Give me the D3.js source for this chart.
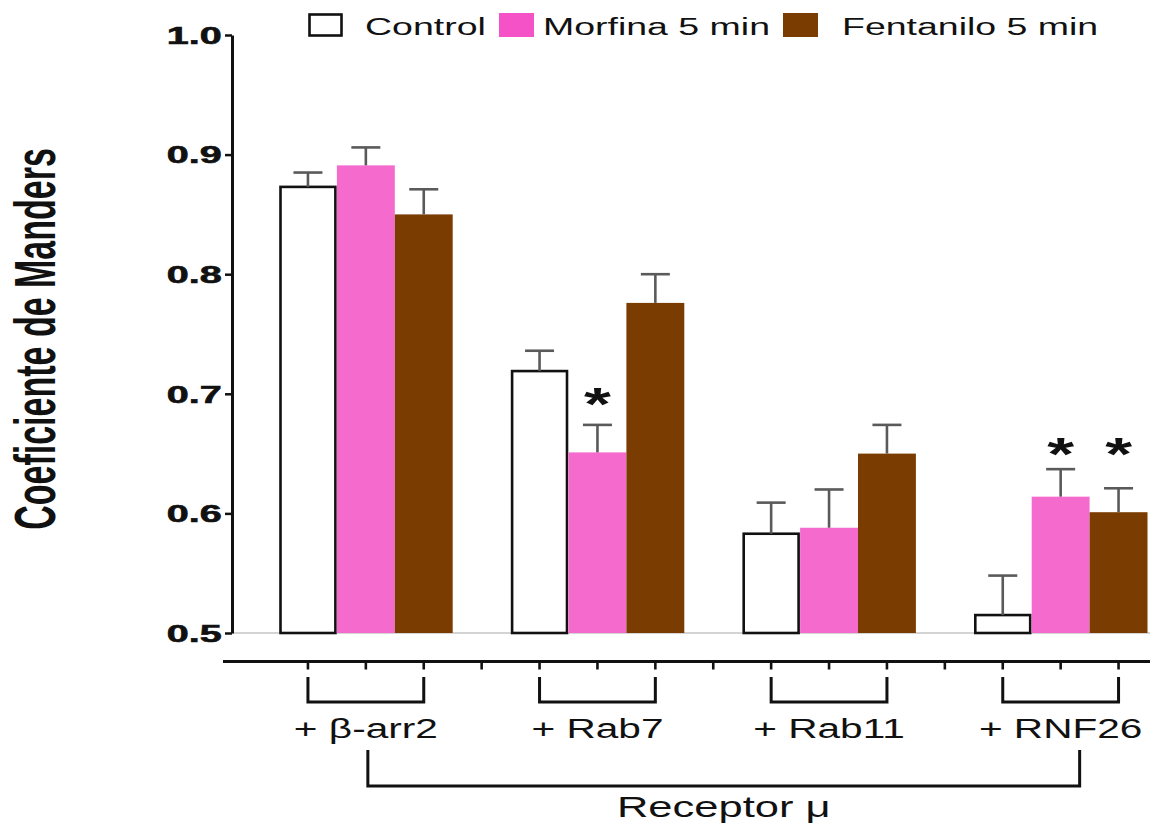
<!DOCTYPE html>
<html><head><meta charset="utf-8">
<script src="https://cdn.jsdelivr.net/npm/d3@7"></script>
<style>
body{margin:0;background:#fff}
svg{display:block}
text{font-family:"Liberation Sans",Arial,Helvetica,sans-serif;fill:#111}
</style></head>
<body><svg id="c" width="1150" height="828"></svg>
<script>
// ---- data ----
const groups = ["+ β-arr2", "+ Rab7", "+ Rab11", "+ RNF26"];
const series = ["Control", "Morfina 5 min", "Fentanilo 5 min"];
const controlMean   = [0.873, 0.719, 0.583, 0.515];
const controlErr    = [0.012, 0.017, 0.026, 0.033];
const morfinaMean   = [0.891, 0.651, 0.588, 0.614];
const morfinaErr    = [0.015, 0.023, 0.032, 0.023];
const fentaniloMean = [0.850, 0.776, 0.650, 0.601];
const fentaniloErr  = [0.021, 0.024, 0.024, 0.020];
const yTicks = [0.5, 0.6, 0.7, 0.8, 0.9, 1.0];
const starGroups = ["+ Rab7", "+ RNF26", "+ RNF26"];
const starSeries = ["Morfina 5 min", "Morfina 5 min", "Fentanilo 5 min"];
const starLevel  = [0.699, 0.657, 0.657];
const yTitle = "Coeficiente de Manders";
const xTitle = "Receptor μ";

// ---- setup ----
const svg = d3.select("#c");
const means = [controlMean, morfinaMean, fentaniloMean];
const errs = [controlErr, morfinaErr, fentaniloErr];
const colors = ["#ffffff", "#f56acd", "#7b3c02"];
const color = d3.scaleOrdinal().domain(series).range(colors);

const y = d3.scaleLinear().domain([0.5, 1.0]).range([633, 35]);
const x0 = d3.scaleBand().domain(groups).range([279, 279 + 4 * 231.6]);
const slots = [...series, "gap"];
const x1 = d3.scaleBand().domain(slots).range([0, x0.bandwidth()]);
const cx = (g, s) => x0(g) + x1(s) + x1.bandwidth() / 2;

const rows = [];
series.forEach((s, i) => groups.forEach((g, j) => rows.push({g, s, v: means[i][j], e: errs[i][j]})));

function stretchText(sel, x, yy, sx, anchor, size, weight, txt) {
  return sel.append("text")
    .attr("transform", `translate(${x},${yy}) scale(${sx},1)`)
    .attr("text-anchor", anchor)
    .attr("font-size", size)
    .attr("font-weight", weight)
    .text(txt);
}

// faint baseline
svg.append("line").attr("x1", 232).attr("x2", 1150).attr("y1", y(0.5)).attr("y2", y(0.5))
  .attr("stroke", "#d4d4d4").attr("stroke-width", 2);

// bars
svg.append("g").selectAll("rect").data(rows).join("rect")
  .attr("x", d => x0(d.g) + x1(d.s) + (d.s === "Control" ? 1.5 : 0))
  .attr("width", d => x1.bandwidth() - (d.s === "Control" ? 3 : 0))
  .attr("y", d => y(d.v))
  .attr("height", d => y(0.5) - y(d.v))
  .attr("fill", d => color(d.s))
  .attr("stroke", d => d.s === "Control" ? "#111" : "none")
  .attr("stroke-width", 2.6);

// error bars (upper only)
const eb = svg.append("g").attr("stroke", "#5a5a5a").attr("stroke-width", 2.6);
eb.selectAll("line.stem").data(rows).join("line").attr("class", "stem")
  .attr("x1", d => cx(d.g, d.s)).attr("x2", d => cx(d.g, d.s))
  .attr("y1", d => y(d.v)).attr("y2", d => y(d.v + d.e));
eb.selectAll("line.cap").data(rows).join("line").attr("class", "cap")
  .attr("x1", d => cx(d.g, d.s) - 14.5).attr("x2", d => cx(d.g, d.s) + 14.5)
  .attr("y1", d => y(d.v + d.e)).attr("y2", d => y(d.v + d.e));

// stars
starGroups.forEach((g, i) => {
  stretchText(svg, cx(g, starSeries[i]), y(starLevel[i]) + 25, 1.5, "middle", 46, "bold", "*");
});

// y axis
const ya = svg.append("g").attr("transform", "translate(232,0)")
  .call(d3.axisLeft(y).tickValues(yTicks).tickFormat(d3.format(".1f")).tickSize(7).tickSizeOuter(0));
ya.select(".domain").attr("stroke", "#111").attr("stroke-width", 3);
ya.selectAll(".tick line").attr("stroke", "#111").attr("stroke-width", 2.5);
ya.selectAll(".tick text")
  .attr("font-family", "'Liberation Sans',Arial,sans-serif")
  .attr("font-size", 23).attr("font-weight", "bold").attr("fill", "#111")
  .attr("x", -6).attr("dy", "0.36em")
  .attr("stroke", "#111").attr("stroke-width", 0.6)
  .attr("transform", "scale(1.72,1)");

// y title
svg.append("text")
  .attr("transform", `translate(55,339) scale(1.69,1) rotate(-90)`)
  .attr("text-anchor", "middle").attr("font-size", 34).attr("font-weight", "bold")
  .text(yTitle);

// bottom axis
const allSlots = [];
groups.forEach(g => slots.forEach(s => allSlots.push(g + "|" + s)));
const xs = d3.scaleBand().domain(allSlots).range(x0.range());
svg.append("line").attr("x1", 223).attr("x2", 1150).attr("y1", 661.5).attr("y2", 661.5)
  .attr("stroke", "#111").attr("stroke-width", 3);
const xa = svg.append("g").attr("transform", "translate(0,661.5)")
  .call(d3.axisBottom(xs).tickFormat("").tickSize(8).tickSizeOuter(0));
xa.select(".domain").remove();
xa.selectAll(".tick line").attr("stroke", "#111").attr("stroke-width", 2.6);

// group brackets and labels
groups.forEach(g => {
  const a = cx(g, "Control"), b = cx(g, "Fentanilo 5 min");
  svg.append("path").attr("d", `M${a},677V702H${b}V677`)
    .attr("fill", "none").attr("stroke", "#111").attr("stroke-width", 3);
  stretchText(svg, cx(g, "Morfina 5 min"), 738, 1.45, "middle", 28, "normal", g);
});

// big bracket
const bl = cx(groups[0], "Morfina 5 min") + 2;
const br = cx(groups[3], "Morfina 5 min") + 19;
svg.append("path").attr("d", `M${bl},750V786H${br}V750`)
  .attr("fill", "none").attr("stroke", "#111").attr("stroke-width", 3);
stretchText(svg, (bl + br) / 2, 817, 1.5, "middle", 29, "normal", xTitle);

// legend
const legSquareX = [308, 499, 783];
const legTextX = [365, 543, 842];
series.forEach((s, i) => {
  svg.append("rect").attr("x", legSquareX[i] + (i === 0 ? 1.5 : 0)).attr("y", 13 + (i === 0 ? 1.5 : 0))
    .attr("width", 35 - (i === 0 ? 3 : 0)).attr("height", 24 - (i === 0 ? 3 : 0))
    .attr("fill", i === 1 ? "#f452c6" : color(s))
    .attr("stroke", i === 0 ? "#111" : "none").attr("stroke-width", 2.6);
  stretchText(svg, legTextX[i], 35, 1.53, "start", 24.5, "normal", s);
});
</script></body></html>
